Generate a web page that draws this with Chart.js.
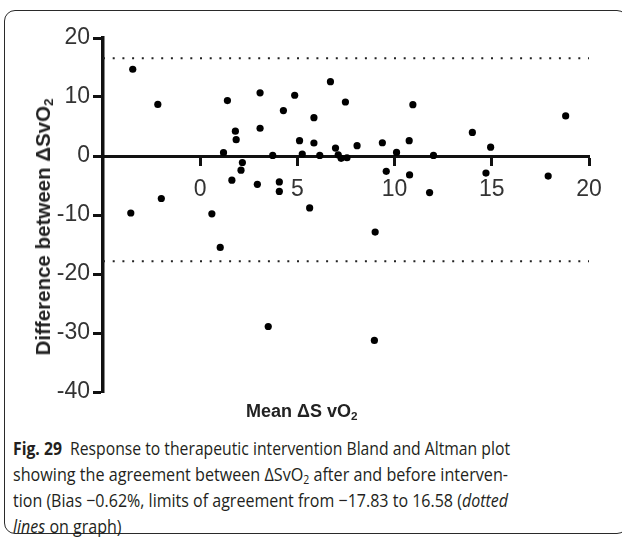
<!DOCTYPE html>
<html>
<head>
<meta charset="utf-8">
<script src="https://cdn.jsdelivr.net/npm/chart.js@4"></script>
<style>
  html, body { margin: 0; padding: 0; background: #fff; }
  body { width: 622px; height: 540px; position: relative; overflow: hidden; }
  #frame { position: absolute; left: 4px; top: 10px; width: 624px; height: 524px;
           border: 1.3px solid #2a2a2a; border-radius: 11px; box-sizing: border-box; }
  #wrap { position: absolute; left: 0; top: 0; width: 622px; height: 420px; }
  .ytitle { position: absolute; left: 43px; top: 227px; transform: translate(-50%, -50%) rotate(-90deg);
            font-family: "Liberation Sans", Arial, sans-serif; font-weight: bold; font-size: 20.5px;
            color: #222; white-space: nowrap; }
  .xtitle { position: absolute; left: 246px; top: 401px; font-family: "Liberation Sans", Arial, sans-serif;
            font-weight: bold; font-size: 18px; color: #222; white-space: nowrap; }
  sub { font-size: 0.65em; vertical-align: -0.25em; line-height: 0; }
  #caption { position: absolute; left: 13px; top: 435px; width: 600px;
             font-family: "Open Sans", sans-serif; font-size: 18.5px; color: #231f20; }
  #caption div { height: 26px; line-height: 26px; white-space: nowrap; }
  #caption span { display: inline-block; transform-origin: 0 50%; white-space: pre; }
</style>
</head>
<body>
<div id="frame"></div>
<div id="wrap"><canvas id="c" width="622" height="420"></canvas></div>
<div class="ytitle">Difference between ΔSvO<sub>2</sub></div>
<div class="xtitle">Mean ΔS vO<sub>2</sub></div>
<div id="caption">
  <div><span data-w="497"><b>Fig. 29</b>  Response to therapeutic intervention Bland and Altman plot</span></div>
  <div><span data-w="495">showing the agreement between ΔSvO<sub>2</sub> after and before interven-</span></div>
  <div><span data-w="495">tion (Bias −0.62%, limits of agreement from −17.83 to 16.58 (<i>dotted</i></span></div>
  <div><span data-w="0"><i>lines</i> on graph)</span></div>
</div>
<script>
// Mean ΔSvO2 (x) and difference (y) of each patient
const meanValues = [-3.47, -2.18, -3.57, -2.0, 0.6, 1.03, 1.2, 1.4, 1.81, 1.85, 1.63, 2.17, 2.1, 2.94, 3.08, 3.08, 3.5,
  3.73, 4.07, 4.07, 4.28, 4.86, 5.11, 5.25, 5.63, 5.85, 5.85, 6.15, 6.7, 6.96, 7.1, 7.25, 7.55, 7.47, 8.07, 8.96, 9.0,
  9.37, 9.57, 10.1, 10.75, 10.77, 10.94, 11.8, 12.0, 14.0, 14.7, 14.94, 17.9, 18.8];
const diffValues = [14.7, 8.75, -9.66, -7.2, -9.8, -15.5, 0.56, 9.4, 4.2, 2.76, -4.1, -1.1, -2.4, -4.8, 10.7, 4.7, -28.9,
  0.1, -4.4, -6.0, 7.7, 10.3, 2.6, 0.34, -8.8, 6.5, 2.2, 0.1, 12.6, 1.35, 0.2, -0.4, -0.3, 9.15, 1.75, -31.25, -12.9,
  2.25, -2.6, 0.6, 2.6, -3.2, 8.7, -6.2, 0.1, 4.0, -2.9, 1.5, -3.4, 6.8];
const upperLimit = 16.58;
const lowerLimit = -17.83;
const xRange = [-5, 20];
const yRange = [-40, 20];
const xTicks = [0, 5, 10, 15, 20];
const yTicks = [-40, -30, -20, -10, 0, 10, 20];

// fit caption lines to the reference line widths
let lastScale = 1;
document.querySelectorAll('#caption span').forEach(sp => {
  const target = +sp.dataset.w;
  const w = sp.getBoundingClientRect().width;
  const s = target ? target / w : lastScale;
  lastScale = s;
  sp.style.transform = 'scaleX(' + s + ')';
});

const points = meanValues.map((m, i) => ({ x: m, y: diffValues[i] }));
const limitLine = (v) => [{ x: xRange[0], y: v }, { x: xRange[1], y: v }];
const dotted = { type: 'line', borderColor: '#222', borderWidth: 2, borderDash: [2, 7.7],
  pointRadius: 0, fill: false, tension: 0 };

new Chart(document.getElementById('c'), {
  type: 'scatter',
  data: {
    datasets: [
      Object.assign({ data: limitLine(upperLimit) }, dotted),
      Object.assign({ data: limitLine(lowerLimit) }, dotted),
      { data: points, backgroundColor: '#000', borderWidth: 0, pointRadius: 3.6, pointHoverRadius: 3.6 }
    ]
  },
  options: {
    responsive: false,
    animation: false,
    events: [],
    layout: { padding: { left: 0, top: 38, right: 33, bottom: 28 } },
    plugins: { legend: { display: false }, tooltip: { enabled: false } },
    scales: {
      x: {
        type: 'linear', min: xRange[0], max: xRange[1],
        position: { y: 0 },
        afterBuildTicks: (s) => { s.ticks = xTicks.map(v => ({ value: v })); },
        afterFit: (s) => { s.height = 0; },
        grid: { display: true, drawOnChartArea: false, drawTicks: true, tickLength: 8, tickWidth: 3, tickColor: '#111' },
        border: { display: true, width: 3, color: '#111' },
        ticks: { color: '#333', padding: 12, font: { family: 'Liberation Sans', size: 23 }, maxRotation: 0 }
      },
      y: {
        type: 'linear', min: yRange[0], max: yRange[1],
        afterBuildTicks: (s) => { s.ticks = yTicks.map(v => ({ value: v })); },
        afterFit: (s) => { s.width = 103; },
        grid: { display: true, drawOnChartArea: false, drawTicks: true, tickLength: 10, tickWidth: 3, tickColor: '#111' },
        border: { display: true, width: 3.5, color: '#111' },
        ticks: { color: '#333', padding: 3, font: { family: 'Liberation Sans', size: 23 },
                 callback: (v) => String(v) }
      }
    }
  }
});
</script>
</body>
</html>
